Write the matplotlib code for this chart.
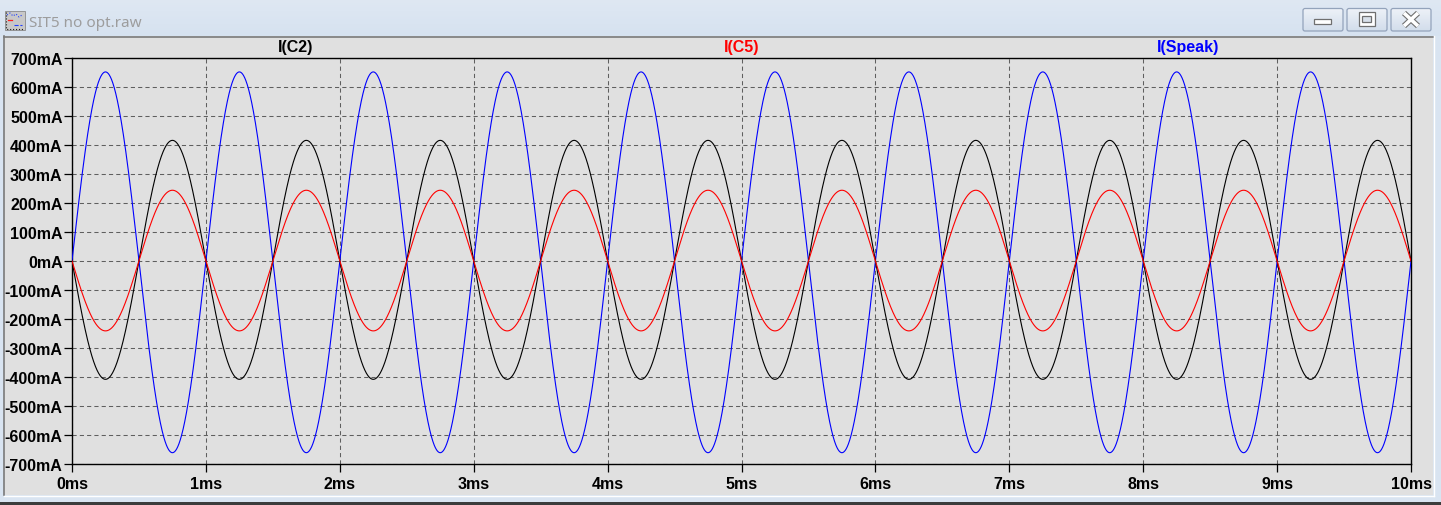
import numpy as np
import matplotlib
matplotlib.use("Agg")
import matplotlib.pyplot as plt
from matplotlib.patches import Rectangle, FancyBboxPatch
from matplotlib.colors import LinearSegmentedColormap

# ---------------- data ----------------
time_end_ms = 10.0
freq_khz = 1.0
# signed half-cycle extreme values in mA, one per half period (20 half periods)
speak_half_peaks = [652, -661, 652, -661, 652, -661, 652, -661, 652, -661,
                    652, -661, 652, -661, 652, -661, 652, -661, 652, -661]
c2_half_peaks = [-408, 416, -408, 416, -408, 416, -408, 416, -408, 416,
                 -408, 416, -408, 416, -408, 416, -408, 416, -408, 416]
c5_half_peaks = [-241, 244, -241, 244, -241, 244, -241, 244, -241, 244,
                 -241, 244, -241, 244, -241, 244, -241, 244, -241, 244]
trace_names = ["I(C2)", "I(C5)", "I(Speak)"]
trace_colors = ["#000000", "#ff0000", "#0000ff"]
y_ticks = [-700, -600, -500, -400, -300, -200, -100, 0, 100, 200, 300, 400, 500, 600, 700]
y_tick_labels = ["-700mA", "-600mA", "-500mA", "-400mA", "-300mA", "-200mA", "-100mA", "0mA",
                 "100mA", "200mA", "300mA", "400mA", "500mA", "600mA", "700mA"]
x_ticks = [0, 1, 2, 3, 4, 5, 6, 7, 8, 9, 10]
x_tick_labels = ["0ms", "1ms", "2ms", "3ms", "4ms", "5ms", "6ms", "7ms", "8ms", "9ms", "10ms"]
window_title = "SIT5 no opt.raw"

# ---------------- waveform construction ----------------
t = np.linspace(0, time_end_ms, 6001)
half_idx = np.minimum((t * 2 * freq_khz).astype(int), 19)
shape = np.abs(np.sin(2 * np.pi * freq_khz * t))
def wave(peaks):
    return shape * np.asarray(peaks, dtype=float)[half_idx]

W, H = 1441, 506
fig = plt.figure(figsize=(W / 100, H / 100), dpi=100)
fig.patch.set_facecolor("#d9e4f1")

# background / window chrome axes in pixel coords
bg = fig.add_axes([0, 0, 1, 1], zorder=0)
bg.set_xlim(0, W)
bg.set_ylim(H, 0)
bg.axis("off")

# title bar gradient
grad = np.linspace(0, 1, 64).reshape(-1, 1)
cm_title = LinearSegmentedColormap.from_list("tb", ["#dfe8f3", "#d6e2f0"])
bg.imshow(grad, extent=(0, W, 37, 0), cmap=cm_title, aspect="auto", zorder=0)

# panel
bg.add_patch(Rectangle((4, 37), 1429, 459, facecolor="#e0e0e0", edgecolor="none", zorder=1))
bg.plot([4, 4], [37, 496], color="#7a7a7a", lw=1.2, zorder=2)
bg.plot([4, 1433], [37.5, 37.5], color="#7a7a7a", lw=1.2, zorder=2)
bg.plot([1433.5, 1433.5], [37, 497], color="#ffffff", lw=1.0, zorder=2)
bg.plot([4, 1434], [496.5, 496.5], color="#ffffff", lw=1.0, zorder=2)
bg.add_patch(Rectangle((0, 503), W, 3, facecolor="#3c3c3c", edgecolor="none", zorder=2))

# window icon
bg.add_patch(Rectangle((5, 12), 20, 19, facecolor="#c8c8c8", edgecolor="#8a8a8a", lw=0.6, zorder=3))
bg.plot([7, 10, 13, 16, 19, 22], [16, 14, 17, 15, 18, 16], color="#2040ff", lw=0.8, ls=":", zorder=4)
bg.plot([8, 12], [21, 21], color="#ff2020", lw=0.9, zorder=4)
bg.plot([14, 22], [26, 26], color="#2040ff", lw=0.8, ls="--", zorder=4)
bg.plot([6, 6, 24], [13, 30, 30], color="#202020", lw=0.8, ls=":", zorder=4)

# title text
bg.text(29, 27, window_title, fontsize=11, color="#9d9d9d", family="Noto Sans",
        ha="left", va="baseline", zorder=5)

# caption buttons
cm_btn = LinearSegmentedColormap.from_list("bt", ["#eef2f8", "#d2ddeb"])
for x0 in (1303, 1347, 1391):
    bg.imshow(grad, extent=(x0, x0 + 40, 32, 9.5), cmap=cm_btn, aspect="auto", zorder=3)
    bg.add_patch(FancyBboxPatch((x0, 9.5), 40, 22.5, boxstyle="round,pad=0,rounding_size=2",
                                facecolor="none", edgecolor="#93a3bb", lw=0.9, zorder=4))
# minimize
bg.add_patch(Rectangle((1313.5, 19.5), 17, 5, facecolor="#ffffff", edgecolor="#6f6f6f", lw=0.9, zorder=5))
# restore
bg.add_patch(Rectangle((1358.5, 12.5), 16, 14, facecolor="#ffffff", edgecolor="#6f6f6f", lw=0.9, zorder=5))
bg.add_patch(Rectangle((1362, 16.5), 9, 6, facecolor="#d8e0ea", edgecolor="#6f6f6f", lw=0.9, zorder=6))
# close X
for (xa, ya, xb, yb) in [(1404, 14, 1418, 27), (1404, 27, 1418, 14)]:
    bg.plot([xa, xb], [ya, yb], color="#6f6f6f", lw=4.2, solid_capstyle="butt", zorder=5)
    bg.plot([xa, xb], [ya, yb], color="#ffffff", lw=2.6, solid_capstyle="butt", zorder=6)

# ---------------- main plot ----------------
left, right, top, bottom = 72, 1411, 59, 465
ax = fig.add_axes([left / W, (H - bottom) / H, (right - left) / W, (bottom - top) / H], zorder=2)
ax.set_facecolor("#e0e0e0")

ax.plot(t, wave(speak_half_peaks), color=trace_colors[2], lw=0.8, zorder=3)
ax.plot(t, wave(c2_half_peaks), color=trace_colors[0], lw=0.8, zorder=4)
ax.plot(t, wave(c5_half_peaks), color=trace_colors[1], lw=0.8, zorder=5)

ax.set_xlim(0, time_end_ms)
ax.set_ylim(-700, 700)
ax.set_xticks(x_ticks)
ax.set_xticklabels(x_tick_labels)
ax.set_yticks(y_ticks)
ax.set_yticklabels(y_tick_labels)
for lab in ax.get_xticklabels() + ax.get_yticklabels():
    lab.set_fontfamily("Liberation Sans")
    lab.set_fontweight("bold")
    lab.set_fontsize(11.5)
ax.tick_params(axis="both", direction="out", length=6, width=0.9, color="black")
ax.tick_params(axis="y", pad=0.8)
ax.tick_params(axis="x", pad=3)
ax.grid(True, color="#5f5f5f", lw=0.75, linestyle=(0, (4, 3)))
ax.set_axisbelow(True)
for sp in ax.spines.values():
    sp.set_color("black")
    sp.set_linewidth(1.0)

# trace labels above the plot
label_offset = 1.0 + 4 / (bottom - top)
for i, (name, col) in enumerate(zip(trace_names, trace_colors)):
    ax.text((2 * i + 1) / 6, label_offset, name, transform=ax.transAxes, color=col,
            fontsize=11.5, fontweight="bold", family="Liberation Sans",
            ha="center", va="bottom")

fig.savefig("out.png", dpi=100, facecolor=fig.get_facecolor())
